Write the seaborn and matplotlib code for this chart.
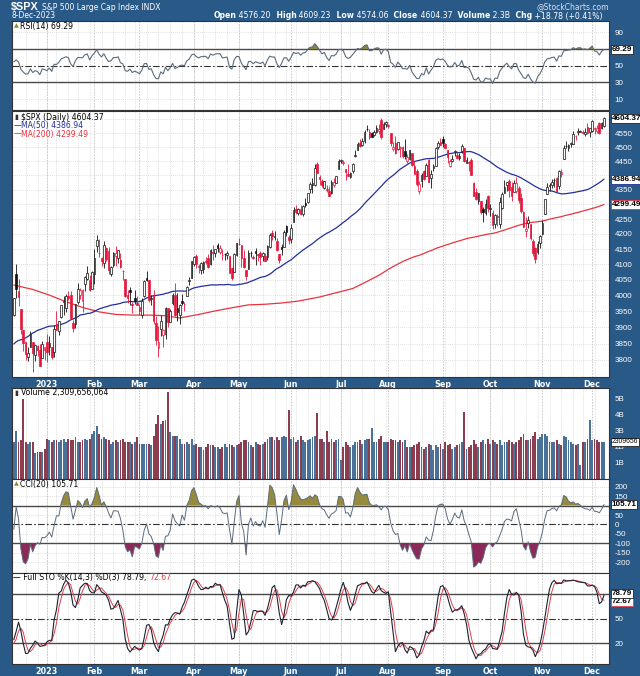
import numpy as np
import pandas as pd
import matplotlib
matplotlib.use("Agg")
import matplotlib.pyplot as plt
import matplotlib.transforms as mtransforms
from matplotlib.ticker import NullLocator, FixedLocator
import seaborn as sns

sns.set_theme(style="white")
plt.rcParams['font.family'] = ['DejaVu Sans']
NUMFONT = ['Liberation Sans', 'DejaVu Sans']

# ------------------------------------------------------------------ data
holidays = ["2022-11-24", "2022-12-26", "2023-01-02", "2023-01-16", "2023-02-20",
            "2023-04-07", "2023-05-29", "2023-06-19", "2023-07-04", "2023-09-04",
            "2023-11-23"]

# closes Oct 3 - Nov 11 2022 (used only for indicator warm-up)
early_close = [3678.43, 3790.93, 3783.28, 3744.52, 3639.66, 3612.39, 3588.84, 3577.03, 3669.91,
               3583.07, 3677.95, 3719.98, 3695.16, 3665.78, 3752.75, 3797.34, 3859.11, 3830.60,
               3807.30, 3901.06, 3871.98, 3856.10, 3759.69, 3719.89, 3770.55, 3806.80, 3828.11,
               3748.57, 3956.37, 3992.93]

# OHLC Nov 14 2022 - Dec 8 2023 (first 19 rows = warm-up, then 250 visible bars from Dec 12 2022)
open_ = [
    3977.97, 4006.41, 3976.82, 3919.26, 3966.39, 3956.23, 3965.51, 4000.30, 4023.34, 4005.36,
    3964.19, 3957.18, 4087.14, 4040.17, 4052.02, 3996.63, 3933.28, 3947.79, 3954.17,
    3939.29, 4069.38, 4015.54, 3958.37, 3890.91, 3853.79, 3810.47, 3839.49, 3853.57, 3815.11,
    3843.34, 3829.56, 3805.45, 3829.06,
    3853.29, 3840.36, 3839.74, 3823.37, 3910.82, 3888.57, 3932.35, 3977.57, 3960.60, 3999.28,
    4002.25, 3911.84, 3909.04, 3978.14, 4001.74, 3982.71, 4036.08, 4053.72, 4049.27, 4020.85,
    4070.07, 4158.68, 4136.69, 4119.57, 4105.35, 4153.47, 4144.25, 4068.92, 4096.62, 4126.70,
    4119.50, 4114.75, 4077.39, 4052.35, 4001.83, 4018.60, 3973.24, 3992.36, 3977.19,
    3963.34, 3938.68, 3998.02, 4055.15, 4048.26, 3987.55, 3998.66, 3912.77, 3835.12, 3894.01,
    3876.74, 3878.93, 3958.69, 3917.47, 3975.89, 4002.04, 3959.21, 3939.21, 3982.93, 3974.13,
    3999.53, 4046.74, 4056.18,
    4102.20, 4128.03, 4094.50, 4081.15, 4085.20, 4110.29, 4121.72, 4100.04, 4140.11, 4137.17,
    4164.26, 4139.33, 4130.48, 4132.14, 4132.07, 4126.43, 4087.78, 4075.29, 4129.63,
    4166.79, 4164.10, 4122.25, 4082.61, 4084.73, 4136.98, 4124.25, 4143.74, 4132.24, 4138.54,
    4126.65, 4127.95, 4122.85, 4157.68, 4204.15, 4190.78, 4176.80, 4132.96, 4155.71, 4156.16,
    4226.71, 4190.74,
    4183.03, 4241.01, 4282.99, 4271.34, 4285.47, 4268.69, 4304.88, 4308.32, 4352.61, 4366.29,
    4365.33, 4440.95, 4396.11, 4380.01, 4355.40, 4354.17, 4344.84, 4337.36, 4367.48, 4374.94,
    4422.44,
    4450.48, 4442.04, 4422.62, 4404.54, 4394.23, 4415.55, 4467.69, 4491.50, 4514.61, 4508.86,
    4521.78, 4563.87, 4554.38, 4550.16, 4543.39, 4555.19, 4558.96, 4598.26, 4565.75, 4584.82,
    4578.83, 4550.93, 4494.27, 4513.96, 4491.58, 4498.03, 4501.57, 4487.16, 4450.69, 4458.13,
    4478.87, 4433.79, 4416.32, 4344.88, 4380.28, 4415.33, 4396.44, 4455.16, 4389.38, 4426.03,
    4432.75, 4500.34, 4517.01,
    4530.60, 4510.06, 4490.35, 4434.55, 4451.30, 4480.98, 4473.27, 4462.65, 4487.78, 4497.98,
    4445.13, 4445.41, 4452.81, 4374.36, 4341.74, 4310.62, 4312.88, 4282.63, 4269.65, 4328.18,
    4284.52, 4269.75, 4233.83, 4259.31, 4234.79, 4289.02, 4339.75, 4366.59, 4380.94, 4360.49,
    4342.37, 4345.23, 4357.35, 4321.36, 4273.85, 4210.40, 4235.79, 4232.42, 4175.99, 4152.93,
    4139.39, 4171.33,
    4201.27, 4268.26, 4334.23, 4364.27, 4366.21, 4384.37, 4391.41, 4364.15, 4406.66, 4458.97,
    4505.30, 4497.08, 4509.55, 4511.70, 4538.77, 4553.04, 4555.84, 4554.86, 4545.55, 4571.84,
    4554.87,
    4559.43, 4564.37, 4557.25, 4586.23, 4568.84, 4576.20]

high = [
    4008.97, 4028.84, 3983.09, 3954.33, 3979.89, 3962.00, 4005.88, 4033.78, 4034.02, 4012.27,
    3976.77, 4080.11, 4100.51, 4080.48, 4052.45, 4001.51, 3957.57, 3974.19, 3977.02,
    3990.71, 4100.96, 4053.76, 3958.37, 3890.91, 3854.86, 3838.24, 3889.82, 3853.57, 3845.80,
    3846.65, 3848.32, 3858.19, 3839.85,
    3878.46, 3873.16, 3839.74, 3906.19, 3950.57, 3919.83, 3970.07, 3997.76, 4003.95, 4015.39,
    4014.16, 3922.94, 3972.96, 4039.31, 4023.92, 4019.55, 4061.57, 4094.21, 4063.85, 4077.16,
    4148.95, 4195.44, 4182.36, 4124.63, 4176.54, 4156.85, 4156.23, 4094.36, 4138.90, 4159.77,
    4148.11, 4136.54, 4081.51, 4052.35, 4017.37, 4028.30, 3978.25, 4018.05, 3997.50,
    3971.73, 3990.84, 4048.29, 4078.49, 4050.00, 4000.41, 4017.81, 3934.05, 3905.05, 3937.29,
    3894.26, 3964.46, 3958.91, 3956.62, 4009.08, 4039.49, 4007.66, 3972.74, 4003.83, 3979.20,
    4030.59, 4057.85, 4110.75,
    4127.66, 4133.13, 4099.69, 4107.32, 4109.50, 4124.26, 4134.37, 4150.26, 4163.19, 4151.72,
    4169.48, 4162.57, 4148.57, 4138.02, 4142.41, 4126.43, 4089.67, 4138.24, 4170.06,
    4186.92, 4164.10, 4148.30, 4082.61, 4147.02, 4142.30, 4130.35, 4154.28, 4132.80, 4143.74,
    4141.25, 4135.54, 4164.67, 4202.20, 4212.91, 4209.22, 4185.68, 4132.96, 4165.74, 4212.87,
    4231.10, 4195.44,
    4232.43, 4290.67, 4299.28, 4288.33, 4299.19, 4298.01, 4322.62, 4340.13, 4375.37, 4391.82,
    4439.20, 4448.47, 4400.15, 4386.22, 4382.25, 4366.55, 4362.06, 4384.42, 4390.35, 4398.39,
    4458.48,
    4456.46, 4454.06, 4422.62, 4440.39, 4412.60, 4443.64, 4488.34, 4517.38, 4527.76, 4532.85,
    4562.30, 4578.43, 4564.74, 4555.00, 4563.41, 4580.62, 4582.47, 4607.07, 4590.16, 4594.22,
    4584.62, 4550.93, 4519.49, 4540.34, 4519.84, 4503.31, 4502.44, 4527.37, 4476.23, 4490.33,
    4478.87, 4449.95, 4421.17, 4381.82, 4407.55, 4418.59, 4443.18, 4458.30, 4418.46, 4439.56,
    4500.14, 4521.65, 4532.26,
    4541.25, 4514.29, 4490.35, 4457.81, 4473.53, 4490.77, 4487.11, 4479.39, 4511.99, 4497.98,
    4466.36, 4449.85, 4461.03, 4375.70, 4357.40, 4338.51, 4313.01, 4292.07, 4317.27, 4333.15,
    4300.58, 4281.15, 4268.50, 4267.13, 4324.10, 4341.73, 4385.46, 4378.64, 4385.85, 4377.10,
    4383.33, 4393.57, 4364.20, 4339.54, 4276.56, 4255.84, 4259.38, 4232.42, 4183.60, 4156.70,
    4177.47, 4195.55,
    4245.64, 4319.72, 4373.62, 4372.21, 4386.26, 4391.20, 4393.40, 4418.03, 4421.76, 4508.67,
    4521.17, 4511.99, 4520.12, 4557.11, 4542.14, 4568.43, 4560.31, 4560.52, 4568.14, 4587.64,
    4569.89,
    4599.39, 4574.06, 4578.56, 4590.74, 4590.92, 4609.23]

low = [
    3956.40, 3953.17, 3954.34, 3906.54, 3935.98, 3933.34, 3956.88, 3998.66, 4020.76, 3955.77,
    3937.65, 3938.58, 4050.87, 4026.63, 3984.49, 3918.39, 3922.68, 3935.83, 3933.04,
    3935.30, 3993.03, 3965.65, 3879.45, 3827.91, 3800.04, 3795.62, 3839.49, 3764.49, 3797.01,
    3813.22, 3780.78, 3805.45, 3800.34,
    3794.33, 3815.77, 3802.42, 3809.56, 3890.42, 3877.29, 3928.54, 3937.56, 3947.67, 3984.57,
    3926.59, 3885.54, 3897.86, 3971.64, 3989.79, 3949.06, 4013.29, 4048.70, 4015.55, 4020.44,
    4037.20, 4141.88, 4123.36, 4093.38, 4088.39, 4111.67, 4069.67, 4060.79, 4092.67, 4095.01,
    4103.98, 4089.49, 4047.95, 3995.19, 3976.90, 3969.19, 3943.08, 3973.55, 3968.98,
    3939.05, 3928.16, 3995.17, 4044.61, 3980.31, 3969.76, 3908.70, 3846.32, 3808.86, 3873.63,
    3838.24, 3864.11, 3901.27, 3916.89, 3971.19, 3936.17, 3919.05, 3909.16, 3970.47, 3951.53,
    3999.53, 4032.10, 4056.18,
    4095.31, 4086.87, 4072.56, 4069.84, 4072.55, 4102.61, 4086.94, 4099.40, 4113.20, 4123.18,
    4140.36, 4134.49, 4114.57, 4113.86, 4117.77, 4071.38, 4049.35, 4075.29, 4127.18,
    4164.12, 4089.72, 4088.86, 4048.28, 4084.73, 4123.81, 4116.65, 4098.92, 4109.29, 4099.12,
    4110.27, 4109.86, 4113.62, 4153.50, 4180.20, 4179.68, 4142.54, 4103.98, 4129.73, 4156.16,
    4192.18, 4166.15,
    4171.64, 4241.01, 4266.82, 4263.09, 4263.96, 4261.07, 4291.70, 4304.37, 4337.54, 4337.85,
    4362.60, 4407.44, 4367.19, 4360.14, 4351.82, 4341.34, 4328.08, 4335.00, 4360.22, 4371.97,
    4422.44,
    4442.29, 4436.61, 4385.05, 4397.40, 4389.92, 4408.46, 4463.23, 4489.36, 4499.56, 4504.90,
    4514.59, 4557.48, 4527.56, 4535.79, 4541.29, 4552.42, 4547.58, 4528.56, 4564.01, 4573.14,
    4567.53, 4505.75, 4485.54, 4474.55, 4491.15, 4464.39, 4461.33, 4457.92, 4443.98, 4453.44,
    4432.19, 4403.55, 4364.83, 4335.31, 4360.30, 4382.77, 4396.44, 4375.55, 4356.29, 4414.98,
    4431.68, 4493.59, 4507.39,
    4501.35, 4496.01, 4442.38, 4430.46, 4448.38, 4467.89, 4456.83, 4453.52, 4478.69, 4447.21,
    4442.11, 4416.61, 4401.38, 4329.17, 4316.49, 4302.70, 4265.98, 4238.63, 4264.38, 4274.86,
    4260.21, 4216.45, 4220.48, 4225.91, 4219.55, 4283.79, 4339.64, 4345.34, 4325.43, 4311.97,
    4342.37, 4337.54, 4303.84, 4269.69, 4223.03, 4189.22, 4219.43, 4181.42, 4127.90, 4103.78,
    4132.94, 4153.12,
    4197.74, 4268.26, 4334.23, 4347.53, 4355.41, 4359.76, 4343.94, 4353.34, 4393.82, 4458.97,
    4495.31, 4487.83, 4499.66, 4510.36, 4525.51, 4545.05, 4552.80, 4546.32, 4540.51, 4547.15,
    4537.24,
    4554.71, 4546.72, 4551.68, 4546.50, 4565.22, 4574.06]

close = [
    3957.25, 3991.73, 3958.79, 3946.56, 3965.34, 3949.94, 4003.58, 4027.26, 4026.12, 3963.94,
    3957.63, 4080.11, 4076.57, 4071.70, 3998.84, 3941.26, 3933.92, 3963.51, 3934.38,
    3990.56, 4019.65, 3995.32, 3895.75, 3852.36, 3817.66, 3821.62, 3878.44, 3822.39, 3844.82,
    3829.25, 3783.22, 3849.28, 3839.50,
    3824.14, 3852.97, 3808.10, 3895.08, 3892.09, 3919.25, 3969.61, 3983.17, 3999.09, 3990.97,
    3928.86, 3898.85, 3972.61, 4019.81, 4016.95, 4016.22, 4060.43, 4070.56, 4017.77, 4076.60,
    4119.21, 4179.76, 4136.48, 4111.08, 4164.00, 4117.86, 4081.50, 4090.46, 4137.29, 4136.13,
    4147.60, 4090.41, 4079.09, 3997.34, 3991.05, 4012.32, 3970.04, 3982.24, 3970.15,
    3951.39, 3981.35, 4045.64, 4048.42, 3986.37, 3992.01, 3918.32, 3861.59, 3855.76, 3919.29,
    3891.93, 3960.28, 3916.64, 3951.57, 4002.87, 3936.97, 3948.72, 3970.99, 3977.53, 3971.27,
    4027.81, 4050.83, 4109.31,
    4124.51, 4100.60, 4090.38, 4105.02, 4109.11, 4108.94, 4091.95, 4146.22, 4137.64, 4151.32,
    4154.87, 4154.52, 4129.79, 4133.52, 4137.04, 4071.63, 4055.99, 4135.35, 4169.48,
    4167.87, 4119.58, 4090.75, 4061.22, 4136.25, 4138.12, 4119.17, 4137.64, 4130.62, 4124.08,
    4136.28, 4109.90, 4158.77, 4198.05, 4191.98, 4192.63, 4145.58, 4115.24, 4151.28, 4205.45,
    4205.52, 4179.83,
    4221.02, 4282.37, 4273.79, 4283.85, 4267.52, 4293.93, 4298.86, 4338.93, 4369.01, 4372.59,
    4425.84, 4409.59, 4388.71, 4365.69, 4381.89, 4348.33, 4328.82, 4378.41, 4376.86, 4396.44,
    4450.38,
    4455.59, 4446.82, 4411.59, 4398.95, 4409.53, 4439.26, 4472.16, 4510.04, 4505.42, 4522.79,
    4554.98, 4565.72, 4534.87, 4536.34, 4554.64, 4567.46, 4566.75, 4537.41, 4582.23, 4588.96,
    4576.73, 4513.39, 4501.89, 4478.03, 4518.44, 4499.38, 4467.71, 4468.83, 4464.05, 4489.72,
    4437.86, 4404.33, 4370.36, 4369.71, 4399.77, 4387.55, 4436.01, 4376.31, 4405.71, 4433.31,
    4497.63, 4514.87, 4507.66,
    4515.77, 4496.83, 4465.48, 4451.14, 4457.49, 4487.46, 4461.90, 4467.44, 4505.10, 4450.32,
    4453.53, 4443.95, 4402.20, 4330.00, 4320.06, 4337.44, 4273.53, 4274.51, 4299.70, 4288.05,
    4288.39, 4229.45, 4263.75, 4258.19, 4308.50, 4335.66, 4358.24, 4376.95, 4349.61, 4327.78,
    4373.63, 4373.20, 4314.60, 4278.00, 4224.16, 4217.04, 4247.68, 4186.77, 4137.23, 4117.37,
    4166.82, 4193.80,
    4237.86, 4317.78, 4358.34, 4365.98, 4378.38, 4382.78, 4347.35, 4415.24, 4411.55, 4495.70,
    4502.88, 4508.24, 4514.02, 4547.38, 4538.19, 4556.62, 4559.34, 4550.43, 4554.89, 4550.58,
    4567.80,
    4594.63, 4569.78, 4567.18, 4549.34, 4585.59, 4604.37]

# volume (billions) for the 250 visible bars
volume_b = [
    2.3, 3.0, 2.3, 2.4, 5.0, 2.3, 2.2, 2.3, 2.3, 1.6, 1.7, 1.7, 1.7, 1.9,
    2.5, 2.4, 2.3, 2.4, 2.4, 2.3, 2.4, 2.5, 2.3, 2.5, 2.4, 2.4, 2.6, 2.3, 2.3, 2.4, 2.5, 2.4, 2.5, 2.8,
    3.0, 3.3, 2.8, 2.5, 2.6, 2.5, 2.4, 2.2, 2.3, 2.4, 2.3, 2.4, 2.5, 2.3, 2.3, 2.3, 2.2, 2.3, 2.6,
    2.2, 2.2, 2.2, 2.2, 2.2, 2.1, 2.7, 3.4, 4.0, 3.4, 3.6, 3.7, 5.4, 2.9, 2.7, 2.7, 2.7, 2.5, 2.2,
    2.2, 2.3, 2.2, 2.5,
    2.1, 2.2, 2.0, 2.0, 1.8, 2.0, 2.2, 2.1, 2.1, 2.0, 2.0, 1.9, 2.0, 2.2, 2.0, 2.2, 2.1, 2.0, 2.1,
    2.2, 2.3, 2.4, 2.4, 2.3, 2.1, 2.0, 2.3, 2.2, 2.1, 2.2, 2.3, 2.5, 2.6, 2.6, 2.4, 2.6, 2.4, 2.6,
    2.7, 2.6, 4.3,
    2.5, 2.6, 2.3, 2.4, 2.7, 2.4, 2.3, 2.4, 2.5, 2.6, 2.7, 4.1, 2.5, 2.5, 2.3, 3.0, 2.3, 2.5, 2.3,
    2.4, 2.5,
    1.2, 2.0, 2.3, 2.1, 2.0, 2.1, 2.3, 2.3, 2.4, 2.2, 2.4, 2.5, 2.5, 3.2, 2.3, 2.3, 2.5, 2.7, 2.3,
    2.3,
    2.3, 2.5, 2.4, 2.4, 2.3, 2.4, 2.3, 2.4, 2.0, 2.0, 2.0, 2.1, 2.2, 2.3, 2.0, 1.9, 2.0, 2.2, 2.1,
    1.8, 2.1, 2.0, 2.2,
    1.9, 2.3, 2.1, 2.2, 1.9, 2.0, 2.1, 2.2, 2.3, 4.2, 1.9, 2.0, 2.1, 2.4, 2.2, 2.0, 2.3, 2.4, 2.2,
    2.5,
    2.2, 2.4, 2.3, 2.2, 2.4, 2.1, 2.3, 2.3, 2.4, 2.3, 2.2, 2.3, 2.4, 2.6, 2.8, 2.4, 2.4, 2.5, 2.7,
    2.9, 2.5, 2.6,
    2.8, 2.8, 2.7, 2.3, 2.3, 2.3, 2.4, 2.2, 2.1, 2.7, 2.6, 2.4, 2.3, 2.2, 2.1, 2.2, 0.9, 2.3, 2.3,
    2.5, 3.7,
    2.4, 2.5, 2.4, 2.3, 2.3, 2.309656064]

# 200-day MA (dates before the computable window)
ma200_read_dates = ["2022-12-12", "2022-12-22", "2023-01-04", "2023-01-13", "2023-01-25",
                    "2023-02-03", "2023-02-14", "2023-02-24", "2023-03-07", "2023-03-16",
                    "2023-03-24", "2023-04-05", "2023-04-17", "2023-04-26", "2023-05-05",
                    "2023-05-16", "2023-05-25", "2023-06-06", "2023-06-20", "2023-07-11"]
ma200_read_vals = [4033, 4019, 4001, 3980, 3962, 3948, 3940, 3938, 3938, 3936,
                   3929, 3940, 3951, 3961, 3970, 3972, 3976, 3982, 3995, 4022]

month_abbr = ["2023", "Feb", "Mar", "Apr", "May", "Jun", "Jul", "Aug", "Sep", "Oct", "Nov", "Dec"]

# ------------------------------------------------------------------ derived series
days = pd.bdate_range("2022-10-03", "2023-12-08")
days = days[~days.isin(pd.to_datetime(holidays))]
full_close = np.array(early_close + close, dtype=float)
o = np.array(open_, float); h = np.array(high, float); l = np.array(low, float); c = np.array(close, float)
n_vis = 250
ohlc_off = len(c) - n_vis
full_off = len(full_close) - n_vis
vis_dates = days[-n_vis:]
x = np.arange(n_vis)

cs = pd.Series(full_close)
ma50 = cs.rolling(50).mean().values[full_off:]
ma200_calc = cs.rolling(200).mean().values[full_off:]

def rsi_wilder(cl, n=14):
    d = np.diff(cl)
    g = np.clip(d, 0, None); ls = np.clip(-d, 0, None)
    ag = np.full(len(cl), np.nan); al = np.full(len(cl), np.nan)
    ag[n] = g[:n].mean(); al[n] = ls[:n].mean()
    for i in range(n + 1, len(cl)):
        ag[i] = (ag[i - 1] * (n - 1) + g[i - 1]) / n
        al[i] = (al[i - 1] * (n - 1) + ls[i - 1]) / n
    return 100 - 100 / (1 + ag / al)

rsi = rsi_wilder(full_close)[full_off:]

tp = pd.Series((h + l + c) / 3)
sma_tp = tp.rolling(20).mean()
md = tp.rolling(20).apply(lambda a: np.mean(np.abs(a - a.mean())), raw=True)
cci = ((tp - sma_tp) / (0.015 * md)).values[ohlc_off:]

ll = pd.Series(l).rolling(14).min(); hh = pd.Series(h).rolling(14).max()
fastk = 100 * (pd.Series(c) - ll) / (hh - ll)
fullk_s = fastk.rolling(3).mean()
fulld_s = fullk_s.rolling(3).mean()
fullk = fullk_s.values[ohlc_off:]
fulld = fulld_s.values[ohlc_off:]

# MA200: chart readings for early part, computed afterwards
date_index = {d.strftime("%Y-%m-%d"): i for i, d in enumerate(vis_dates)}
ma_x = [date_index[d] for d in ma200_read_dates]
ma_y = list(ma200_read_vals)
first_calc = int(np.argmax(~np.isnan(ma200_calc)))
ma_x += list(x[first_calc:]); ma_y += list(ma200_calc[first_calc:])

vo = o[ohlc_off:]; vh = h[ohlc_off:]; vl = l[ohlc_off:]; vc = c[ohlc_off:]
prev_c = c[ohlc_off - 1:-1]
vol = np.array(volume_b) * 1e9

# ------------------------------------------------------------------ figure
W, H = 640, 676
BG = "#295987"
RED = "#e3183c"
GRID = "#d6d6d6"
DARK = "#4a4a4a"
fig = plt.figure(figsize=(W / 100, H / 100), dpi=100)
fig.patch.set_facecolor(BG)

L, R = 12, 609
def add_ax(top, bottom):
    ax = fig.add_axes([L / W, 1 - bottom / H, (R - L) / W, (bottom - top) / H])
    ax.set_facecolor("white")
    for s in ax.spines.values():
        s.set_color("#333333"); s.set_linewidth(0.8)
    ax.set_xlim(-0.76, 251.1)
    ax.yaxis.tick_right()
    ax.tick_params(axis="y", length=0, pad=4, labelsize=5.6, labelcolor="white")
    ax.tick_params(axis="x", length=0, pad=2.5, labelsize=5.8, labelcolor="white")
    ax.yaxis.set_minor_locator(NullLocator())
    return ax

ax_rsi = add_ax(21, 110)
ax_px = add_ax(111, 377)
ax_vol = add_ax(388, 479)
ax_cci = add_ax(479, 573)
ax_sto = add_ax(573, 664)
axes = [ax_rsi, ax_px, ax_vol, ax_cci, ax_sto]

# vertical grid (weekly, month starts)
wk = vis_dates.to_period("W")
week_starts = [i for i in range(1, n_vis) if wk[i] != wk[i - 1]]
month_starts = [i for i in range(1, n_vis) if vis_dates[i].month != vis_dates[i - 1].month]
for ax in axes:
    for i in week_starts:
        ax.axvline(i, color=GRID, lw=0.5, ls=(0, (1.5, 1.5)), zorder=0)
    for i in month_starts:
        ax.axvline(i, color="#c4c4c4", lw=0.6, ls=(0, (2, 1.5)), zorder=0)
    ax.set_xticks(month_starts)
    ax.set_xticklabels([])
for ax in (ax_px, ax_sto):
    ax.set_xticklabels(month_abbr, fontweight="bold")

def hline(ax, y, kind):
    if kind == "solid":
        ax.axhline(y, color=DARK, lw=1.0, zorder=1)
    elif kind == "dashdot":
        ax.axhline(y, color="#333333", lw=0.8, ls=(0, (6, 2, 1.5, 2)), zorder=1)
    else:
        ax.axhline(y, color=GRID, lw=0.5, ls=(0, (1.5, 1.5)), zorder=0)

def set_right_labels(ax, ticks, labels):
    ax.yaxis.set_major_locator(FixedLocator(ticks))
    ax.set_yticklabels(labels, fontfamily=NUMFONT, fontsize=5.8)

# ---- RSI
ax_rsi.set_ylim(-3.2, 103.6)
for v in (10, 90):
    hline(ax_rsi, v, "grid")
hline(ax_rsi, 70, "solid"); hline(ax_rsi, 30, "solid"); hline(ax_rsi, 50, "dashdot")
ax_rsi.fill_between(x, rsi, 70, where=rsi >= 70, interpolate=True, color="#8f8536", lw=0, zorder=2)
ax_rsi.fill_between(x, rsi, 30, where=rsi <= 30, interpolate=True, color="#8a2a58", lw=0, zorder=2)
sns.lineplot(x=x, y=rsi, ax=ax_rsi, color="#5b6b7c", lw=0.8, legend=False, zorder=3)
set_right_labels(ax_rsi, [10, 30, 50, 90], ["10", "30", "50", "90"])

# ---- Price
ax_px.set_yscale("log")
ax_px.set_ylim(3749, 4631)
plevels = list(range(3800, 4601, 50))
shown = [v for v in plevels if v not in (4300, 4400, 4600)]
for v in plevels:
    hline(ax_px, v, "grid")
cand_col = np.where(vc >= prev_c, "#111111", RED)
face = [("white" if vc[i] > vo[i] else cand_col[i]) for i in range(n_vis)]
ax_px.vlines(x, vl, vh, colors=cand_col, lw=0.6, zorder=3)
body_lo = np.minimum(vo, vc); body_h = np.maximum(np.abs(vc - vo), 0.8)
ax_px.bar(x, body_h, bottom=body_lo, width=0.7, color=face, edgecolor=cand_col, linewidth=0.5, zorder=4)
sns.lineplot(x=np.array(ma_x), y=np.array(ma_y), ax=ax_px, color="#e8343f", lw=0.9, legend=False, zorder=2)
sns.lineplot(x=x, y=ma50, ax=ax_px, color="#22309a", lw=0.9, legend=False, zorder=2)
set_right_labels(ax_px, shown, [str(v) for v in shown])
ax_px.yaxis.set_minor_locator(NullLocator())

# ---- Volume
ax_vol.set_ylim(0, 5.67e9)
vcol = np.where(vc >= prev_c, "#4a7298", "#8c3d4f")
ax_vol.bar(x, vol, width=0.78, color=vcol, linewidth=0, zorder=2)
set_right_labels(ax_vol, [1e9, 2e9, 3e9, 4e9, 5e9], ["1B", "2B", "3B", "4B", "5B"])

# ---- CCI
ax_cci.set_ylim(-256.6, 240.7)
for v in (-200, -150, -50, 50, 150, 200):
    hline(ax_cci, v, "grid")
hline(ax_cci, 100, "solid"); hline(ax_cci, -100, "solid"); hline(ax_cci, 0, "dashdot")
ax_cci.fill_between(x, cci, 100, where=cci >= 100, interpolate=True, color="#968a3e", lw=0, zorder=2)
ax_cci.fill_between(x, cci, -100, where=cci <= -100, interpolate=True, color="#8b2a58", lw=0, zorder=2)
sns.lineplot(x=x, y=cci, ax=ax_cci, color="#5b6b7c", lw=0.7, legend=False, zorder=3)
cticks = [-200, -150, -100, -50, 0, 50, 150, 200]
set_right_labels(ax_cci, cticks, [str(v) for v in cticks])

# ---- Full STO
ax_sto.set_ylim(-5.4, 106)
hline(ax_sto, 80, "solid"); hline(ax_sto, 20, "solid"); hline(ax_sto, 50, "dashdot")
sns.lineplot(x=x, y=fulld, ax=ax_sto, color="#e0404a", lw=0.7, legend=False, zorder=3)
sns.lineplot(x=x, y=fullk, ax=ax_sto, color="#1c2233", lw=0.8, legend=False, zorder=4)
set_right_labels(ax_sto, [20, 50], ["20", "50"])

for ax in axes:
    ax.set_xlabel(""); ax.set_ylabel("")

# ------------------------------------------------------------------ value tags
def tag(ax, val, txt, ec="#222222", dy=0.0, size=5.9, weight="bold"):
    tr = mtransforms.blended_transform_factory(ax.transAxes, ax.transData)
    if dy:
        tr = tr + mtransforms.ScaledTranslation(0, dy / 100, fig.dpi_scale_trans)
    return ax.text(1.0 + 2.5 / (R - L), val, txt, transform=tr, ha="left", va="center",
                   fontsize=size, fontweight=weight, fontfamily=NUMFONT, color="black",
                   clip_on=False, zorder=20,
                   bbox=dict(boxstyle="square,pad=0.12", fc="white", ec=ec, lw=0.6))

tag(ax_rsi, rsi[-1], f"{rsi[-1]:.2f}")
tag(ax_px, ma200_calc[-1], f"{ma200_calc[-1]:.2f}", ec="#e8343f")
tag(ax_px, ma50[-1], f"{ma50[-1]:.2f}", ec="#22309a")
tag(ax_px, vc[-1], f"{vc[-1]:.2f}")
tag(ax_vol, vol[-1], f"{int(round(vol[-1]))}"[:7], size=4.9, weight="normal")
tag(ax_cci, cci[-1], f"{cci[-1]:.2f}")
tag(ax_sto, fulld[-1], f"{fulld[-1]:.2f}", ec="#e0404a", dy=-1.5)
tag(ax_sto, fullk[-1], f"{fullk[-1]:.2f}", dy=1.5)

# ------------------------------------------------------------------ texts
def ptxt(px, py, s, size=6.0, color="white", weight="normal", ha="left", va="center", **kw):
    return fig.text(px / W, 1 - py / H, s, fontsize=size, color=color, fontweight=weight,
                    ha=ha, va=va, **kw)

renderer = fig.canvas.get_renderer()
t0 = ptxt(11, 7, "$SPX", size=7.8, weight="bold", family=NUMFONT)
w0 = t0.get_window_extent(renderer).width
ptxt(11 + w0 + 3, 7.5, "S&P 500 Large Cap Index INDX", size=5.5)
ptxt(11, 16, "8-Dec-2023", size=5.5)
ptxt(609, 7, "@StockCharts.com", size=5.5, color="#d8e2ee", ha="right")

pieces = [("Open", True), (" 4576.20", False), ("  High", True), (" 4609.23", False),
          ("  Low", True), (" 4574.06", False), ("  Close", True), (" 4604.37", False),
          ("  Volume", True), (" 2.3B", False), ("  Chg", True), (" +18.78 (+0.41%)", False)]
xr = 603
for s, b in reversed(pieces):
    t = ptxt(xr, 16, s, size=5.6, weight="bold" if b else "normal", ha="right")
    xr -= t.get_window_extent(renderer).width

# panel legends
ptxt(14, 26, "▲", size=4.5, color="#8f8536")
ptxt(20, 26, f"RSI(14) {rsi[-1]:.2f}", size=5.6, color="black")
ptxt(14, 117, "▮", size=5, color="#333333")
ptxt(21, 117, f"$SPX (Daily) {vc[-1]:.2f}", size=5.6, color="black")
ptxt(14, 125.5, "—", size=5.6, color="#22309a")
ptxt(21, 125.5, f"MA(50) {ma50[-1]:.2f}", size=5.6, color="#22309a")
ptxt(14, 134, "—", size=5.6, color="#e8343f")
ptxt(21, 134, f"MA(200) {ma200_calc[-1]:.2f}", size=5.6, color="#e8343f")
ptxt(14, 393, "▮", size=5, color="#333333")
ptxt(21, 393, f"Volume {int(round(vol[-1])):,}", size=5.6, color="black")
ptxt(14, 484, "▲", size=4.5, color="#968a3e")
ptxt(20, 484, f"CCI(20) {cci[-1]:.2f}", size=5.6, color="black")
t1 = ptxt(13, 577.5, f"— Full STO %K(14,3) %D(3) {fullk[-1]:.2f}, ", size=5.6, color="black")
w1 = t1.get_window_extent(renderer).width
ptxt(13 + w1, 577.5, f"{fulld[-1]:.2f}", size=5.6, color="#e0404a")

fig.savefig("out.png", dpi=100, facecolor=fig.get_facecolor())
